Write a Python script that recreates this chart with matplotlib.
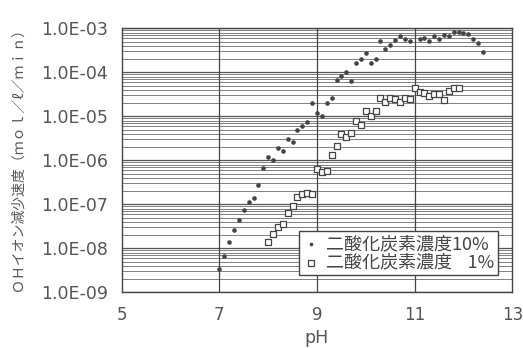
import matplotlib
matplotlib.use("Agg")
import matplotlib.pyplot as plt
from matplotlib.ticker import FuncFormatter, LogLocator

# CO2 10% series (filled dots)
ph_10 = [7.0, 7.1, 7.2, 7.3, 7.4, 7.5, 7.6, 7.7, 7.8, 7.9,
         8.0, 8.1, 8.2, 8.3, 8.4, 8.5, 8.6, 8.7, 8.8, 8.9,
         9.0, 9.1, 9.2, 9.3, 9.4, 9.5, 9.6, 9.7, 9.8, 9.9,
         10.0, 10.1, 10.2, 10.3, 10.4, 10.5, 10.6, 10.7, 10.8, 10.9,
         11.1, 11.2, 11.3, 11.4, 11.5, 11.6, 11.7, 11.8, 11.9,
         12.0, 12.1, 12.2, 12.3, 12.4]
rate_10 = [3.4e-9, 6.7e-9, 1.4e-8, 2.6e-8, 4.4e-8, 7.5e-8, 1.1e-7, 1.4e-7, 2.7e-7, 6.6e-7,
           1.2e-6, 1.0e-6, 1.9e-6, 1.6e-6, 3.1e-6, 2.6e-6, 4.9e-6, 6.0e-6, 7.5e-6, 2.0e-5,
           1.2e-5, 1.0e-5, 2.0e-5, 2.6e-5, 6.6e-5, 8.1e-5, 1.0e-4, 6.5e-5, 1.6e-4, 2.0e-4,
           2.7e-4, 1.6e-4, 2.0e-4, 5.2e-4, 3.3e-4, 4.2e-4, 5.3e-4, 6.6e-4, 5.6e-4, 5.2e-4,
           5.7e-4, 5.9e-4, 5.2e-4, 6.7e-4, 5.7e-4, 7.2e-4, 6.8e-4, 8.4e-4, 8.4e-4,
           7.7e-4, 7.6e-4, 5.7e-4, 4.7e-4, 2.9e-4]

# CO2 1% series (open squares)
ph_1 = [8.0, 8.1, 8.2, 8.3, 8.4, 8.5, 8.6, 8.7, 8.8, 8.9,
        9.0, 9.1, 9.2, 9.3, 9.4, 9.5, 9.6, 9.7, 9.8, 9.9,
        10.0, 10.1, 10.2, 10.3, 10.4, 10.5, 10.6, 10.7, 10.8, 10.9,
        11.0, 11.1, 11.2, 11.3, 11.4, 11.5, 11.6, 11.7, 11.8, 11.9]
rate_1 = [1.4e-8, 2.1e-8, 3.0e-8, 3.6e-8, 6.2e-8, 9.3e-8, 1.5e-7, 1.7e-7, 1.8e-7, 1.7e-7,
          6.3e-7, 5.5e-7, 5.8e-7, 1.3e-6, 2.1e-6, 3.9e-6, 3.3e-6, 4.1e-6, 7.7e-6, 6.5e-6,
          1.3e-5, 1.0e-5, 1.35e-5, 2.6e-5, 2.15e-5, 2.6e-5, 2.5e-5, 2.15e-5, 2.6e-5, 2.5e-5,
          4.3e-5, 3.5e-5, 3.3e-5, 2.85e-5, 3.2e-5, 3.2e-5, 2.3e-5, 3.8e-5, 4.3e-5, 4.4e-5]

x_ticks = [5, 7, 9, 11, 13]
label_10 = "二酸化炭素濃度10%"
label_1 = "二酸化炭素濃度\u2007 1%"
y_label = "ＯＨイオン減少速度（ｍｏｌ／ℓ／ｍｉｎ）"

TXT = "#555555"
plt.rcParams["font.family"] = ["Noto Sans CJK JP", "DejaVu Sans"]

fig = plt.figure(figsize=(5.23, 3.48), dpi=100)
ax = fig.add_axes([0.2327, 0.160, 0.7468, 0.7587])

ax.scatter(ph_10, rate_10, s=11, marker="o", color="#444444", linewidths=0,
           zorder=3, label=label_10)
ax.scatter(ph_1, rate_1, s=24, marker="s", facecolors="white", edgecolors="#444444",
           linewidths=0.9, zorder=3, label=label_1)

ax.set_yscale("log")
ax.set_xlim(5, 13)
ax.set_ylim(1e-9, 1e-3)
ax.set_xticks(x_ticks)
ax.yaxis.set_major_locator(LogLocator(base=10, numticks=10))
ax.yaxis.set_minor_locator(LogLocator(base=10, subs=range(2, 10), numticks=100))
ax.yaxis.set_major_formatter(FuncFormatter(lambda v, p: f"{v:.1E}"))
ax.yaxis.set_minor_formatter(FuncFormatter(lambda v, p: ""))

# grid
ax.grid(True, which="major", axis="y", color="#555555", linewidth=0.9)
ax.grid(True, which="minor", axis="y", color="#808080", linewidth=0.7)
for xv in [7, 9, 11]:
    ax.axvline(xv, color="#444444", linewidth=0.9, zorder=1)
ax.set_axisbelow(True)

for sp in ax.spines.values():
    sp.set_color("#444444")
    sp.set_linewidth(1.0)

ax.tick_params(axis="both", which="both", length=0, colors=TXT)
ax.tick_params(axis="y", labelsize=12.5, pad=10)
ax.tick_params(axis="x", labelsize=12, pad=10)
for t in ax.get_yticklabels() + ax.get_xticklabels():
    t.set_family(["DejaVu Sans"])

ax.set_xlabel("pH", fontsize=12.5, color=TXT, family=["DejaVu Sans"], va="top")
ax.xaxis.set_label_coords(0.5, -0.14)
fig.text(18 / 523, 1 - 156 / 348, y_label, rotation=90, ha="center", va="center",
         fontsize=10, color=TXT)

leg = ax.legend(loc="lower right", bbox_to_anchor=(0.986, 0.03), fontsize=13,
                frameon=True, fancybox=False, edgecolor="#444444", framealpha=1,
                handletextpad=0.3, borderpad=0.2, labelspacing=0.05,
                handlelength=1.0, markerscale=0.8)
leg.get_frame().set_linewidth(1.0)
for t in leg.get_texts():
    t.set_color("#444444")

plt.savefig("out.png", dpi=100)
